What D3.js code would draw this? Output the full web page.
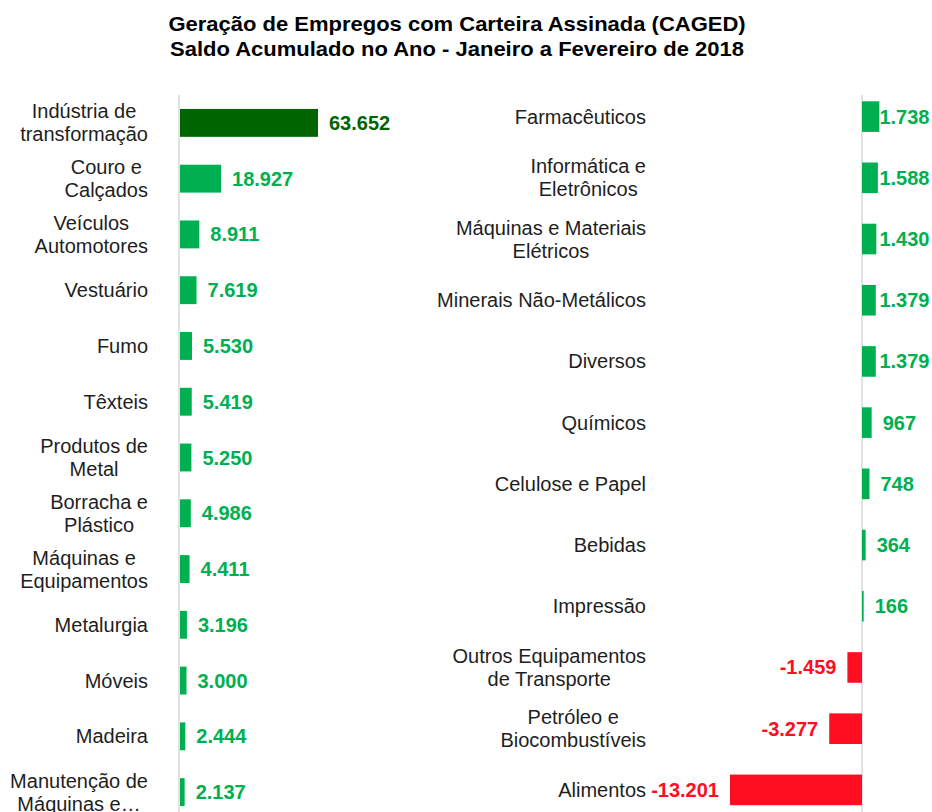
<!DOCTYPE html>
<html>
<head>
<meta charset="utf-8">
<script src="https://cdn.jsdelivr.net/npm/d3@7"></script>
<style>
  html, body { margin: 0; padding: 0; background: #fff; }
  svg { display: block; font-family: "Liberation Sans", Arial, sans-serif; }
</style>
</head>
<body>
<svg id="chart" width="932" height="812"></svg>
<script>
// ---- Data ----
const titleLines = [
  "Geração de Empregos com Carteira Assinada (CAGED)",
  "Saldo Acumulado no Ano - Janeiro a Fevereiro de 2018"
];

const leftCategories = [
  "Indústria de\ntransformação",
  "Couro e\nCalçados",
  "Veículos\nAutomotores",
  "Vestuário",
  "Fumo",
  "Têxteis",
  "Produtos de\nMetal",
  "Borracha e\nPlástico",
  "Máquinas e\nEquipamentos",
  "Metalurgia",
  "Móveis",
  "Madeira",
  "Manutenção de\nMáquinas e…"
];
const leftValues = [63652, 18927, 8911, 7619, 5530, 5419, 5250, 4986, 4411, 3196, 3000, 2444, 2137];

const rightCategories = [
  "Farmacêuticos",
  "Informática e\nEletrônicos",
  "Máquinas e Materiais\nElétricos",
  "Minerais Não-Metálicos",
  "Diversos",
  "Químicos",
  "Celulose e Papel",
  "Bebidas",
  "Impressão",
  "Outros Equipamentos\nde Transporte",
  "Petróleo e\nBiocombustíveis",
  "Alimentos"
];
const rightValues = [1738, 1588, 1430, 1379, 1379, 967, 748, 364, 166, -1459, -3277, -13201];

// ---- Styles ----
const GREEN = "#00B050";
const DARK_GREEN = "#006400";
const RED = "#FF0D21";
const AXIS = "#D9D9D9";
const TEXT = "#1e1e1e";

const locale = d3.formatLocale({decimal: ",", thousands: ".", grouping: [3], currency: ["R$", ""], minus: "-"});
const fmt = locale.format(",d");

const svg = d3.select("#chart");
const H = 812;

// Title
svg.append("g").attr("transform", "translate(457,0) scale(1.1,1)")
  .selectAll("text").data(titleLines).join("text")
  .attr("x", 0)
  .attr("y", (d, i) => 31.5 + i * 24.5)
  .attr("text-anchor", "middle")
  .attr("font-size", "20px")
  .attr("font-weight", "bold")
  .attr("fill", "#000")
  .text(d => d);

function drawLabel(g, text, rightEdge, cy) {
  const lines = text.split("\n");
  const lh = 23;
  const t = g.append("text")
    .attr("font-size", "20px")
    .attr("fill", TEXT)
    .attr("text-anchor", "middle");
  const spans = lines.map((l, i) => t.append("tspan")
    .attr("y", cy + (i - (lines.length - 1) / 2) * lh)
    .attr("dy", "0.35em")
    .text(l));
  let maxW = 0;
  spans.forEach(s => { maxW = Math.max(maxW, s.node().getComputedTextLength()); });
  spans.forEach(s => s.attr("x", rightEdge - maxW / 2));
}

// ---- Left panel ----
const yL = d3.scaleBand().domain(leftCategories).range([95, 820]).paddingInner(0.5).paddingOuter(0.25);
const xL = d3.scaleLinear().domain([0, d3.max(leftValues)]).range([180, 318]);

const gL = svg.append("g");
gL.append("line")
  .attr("x1", xL(0) - 1).attr("x2", xL(0) - 1)
  .attr("y1", 95).attr("y2", H)
  .attr("stroke", AXIS).attr("stroke-width", 1.5);

leftCategories.forEach((c, i) => {
  const v = leftValues[i];
  const col = i === 0 ? DARK_GREEN : GREEN;
  gL.append("rect")
    .attr("x", xL(0))
    .attr("y", yL(c))
    .attr("width", xL(v) - xL(0))
    .attr("height", yL.bandwidth())
    .attr("fill", col);
  gL.append("text")
    .attr("x", xL(v) + 11)
    .attr("y", yL(c) + yL.bandwidth() / 2)
    .attr("dy", "0.35em")
    .attr("font-size", "20px")
    .attr("font-weight", "bold")
    .attr("fill", col)
    .text(fmt(v));
  drawLabel(gL, c, 148, yL(c) + yL.bandwidth() / 2);
});

// ---- Right panel ----
const yR = d3.scaleBand().domain(rightCategories).range([86, 820.5]).paddingInner(0.5).paddingOuter(0.25);
const xR = d3.scaleLinear().domain([d3.min(rightValues), 0]).range([730, 862]);

const gR = svg.append("g");
gR.append("line")
  .attr("x1", xR(0)).attr("x2", xR(0))
  .attr("y1", 95).attr("y2", H)
  .attr("stroke", AXIS).attr("stroke-width", 1.5);

rightCategories.forEach((c, i) => {
  const v = rightValues[i];
  const col = v < 0 ? RED : GREEN;
  gR.append("rect")
    .attr("x", Math.min(xR(0), xR(v)))
    .attr("y", yR(c))
    .attr("width", Math.abs(xR(v) - xR(0)))
    .attr("height", yR.bandwidth())
    .attr("fill", col);
  const lbl = gR.append("text")
    .attr("x", v < 0 ? xR(v) - 11 : xR(v) + 11)
    .attr("y", yR(c) + yR.bandwidth() / 2)
    .attr("dy", "0.35em")
    .attr("text-anchor", v < 0 ? "end" : "start")
    .attr("font-size", "20px")
    .attr("font-weight", "bold")
    .attr("fill", col)
    .text(fmt(v));
  if (v >= 0) {
    const w = lbl.node().getComputedTextLength();
    if (xR(v) + 11 + w > 929.5) lbl.attr("x", 929.5 - w);
  }
  drawLabel(gR, c, 646, yR(c) + yR.bandwidth() / 2);
});
</script>
</body>
</html>
